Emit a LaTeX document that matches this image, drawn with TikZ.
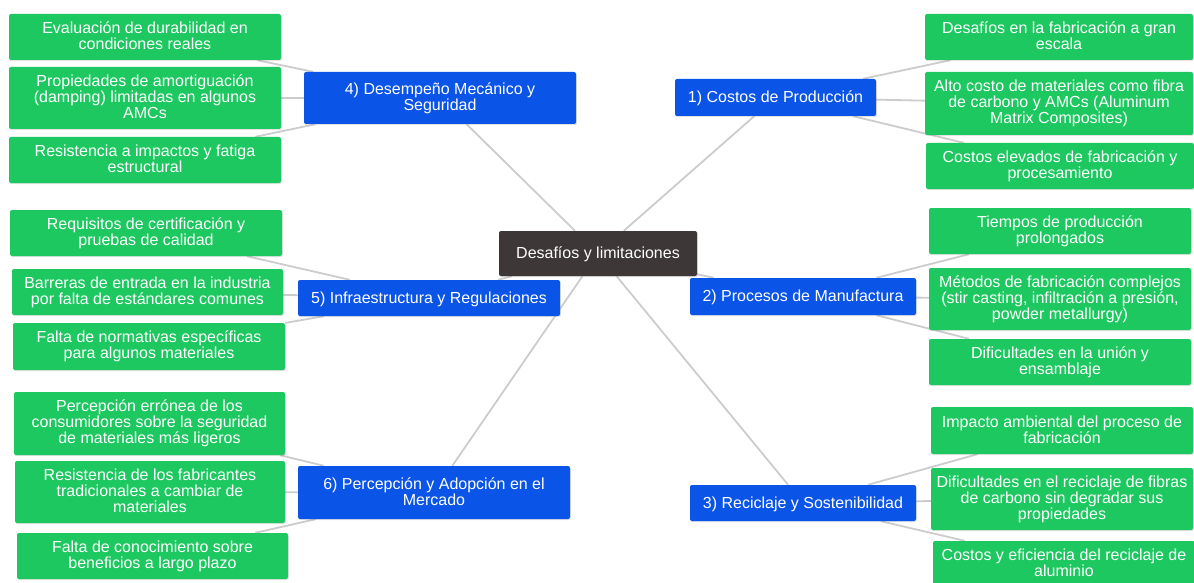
\documentclass[tikz,border=0pt]{standalone}
\usepackage{fontspec}
\setmainfont{Liberation Sans}
\usetikzlibrary{shadows,backgrounds}
\definecolor{leafgreen}{RGB}{29,200,96}
\definecolor{branchblue}{RGB}{10,84,232}
\definecolor{rootdark}{RGB}{61,56,55}
\definecolor{linkgray}{RGB}{204,204,204}
% fixed line box so that every line sits the same way in its box
\newcommand\lnstrut{\vrule height 13.5pt depth 2.5pt width 0pt\relax}
\begin{document}
\begin{tikzpicture}[x=1pt,y=-1pt,
  box/.style={rectangle, rounded corners=2pt, inner sep=0pt, text=white,
    align=center, font=\fontsize{16}{16}\selectfont,
    execute at begin node=\lnstrut, execute at end node=\lnstrut,
    drop shadow={opacity=0.22, shadow xshift=0.8pt, shadow yshift=-1.2pt}},
  leaf/.style={box, fill=leafgreen},
  branch/.style={box, fill=branchblue},
  root/.style={box, fill=rootdark},
  sz/.style 2 args={minimum width=#1, minimum height=#2},
  link/.style={draw=linkgray, line width=1.8pt}]
\useasboundingbox (0,0) rectangle (1194,583);
\clip (0,0) rectangle (1194,583);

% central topic
\node[root, sz={198pt}{45pt}] (c) at (598,253.5) {Desafíos y limitaciones};

% branches
\node[branch, sz={201pt}{37pt}] (b1) at (775.5,97.5) {1) Costos de Producción};
\node[branch, sz={226pt}{37pt}] (b2) at (803,296.5) {2) Procesos de Manufactura};
\node[branch, sz={226pt}{36pt}] (b3) at (803,503) {3) Reciclaje y Sostenibilidad};
\node[branch, sz={272pt}{52pt}] (b4) at (440,98) {4) Desempeño Mecánico y\\Seguridad};
\node[branch, sz={262pt}{36pt}] (b5) at (429,298) {5) Infraestructura y Regulaciones};
\node[branch, sz={272pt}{53pt}] (b6) at (434,492.5) {6) Percepción y Adopción en el\\Mercado};

% leaves of branch 1
\node[leaf, sz={268pt}{46pt}] (r11) at (1059,37) {Desafíos en la fabricación a gran\\escala};
\node[leaf, sz={268pt}{63pt}] (r12) at (1059,103.5) {Alto costo de materiales como fibra\\de carbono y AMCs (Aluminum\\Matrix Composites)};
\node[leaf, sz={268pt}{46pt}] (r13) at (1060,166) {Costos elevados de fabricación y\\procesamiento};

% leaves of branch 2
\node[leaf, sz={262pt}{46pt}] (r21) at (1060,231) {Tiempos de producción\\prolongados};
\node[leaf, sz={262pt}{62pt}] (r22) at (1060,299) {Métodos de fabricación complejos\\(stir casting, infiltración a presión,\\powder metallurgy)};
\node[leaf, sz={262pt}{46pt}] (r23) at (1060,362) {Dificultades en la unión y\\ensamblaje};

% leaves of branch 3
\node[leaf, sz={262pt}{47pt}] (r31) at (1062,430.5) {Impacto ambiental del proceso de\\fabricación};
\node[leaf, sz={262pt}{62pt}] (r32) at (1062,499) {Dificultades en el reciclaje de fibras\\de carbono sin degradar sus\\propiedades};
\node[leaf, sz={262pt}{46pt}] (r33) at (1064,564) {Costos y eficiencia del reciclaje de\\aluminio};

% leaves of branch 4
\node[leaf, sz={272pt}{46pt}] (l41) at (145,37) {Evaluación de durabilidad en\\condiciones reales};
\node[leaf, sz={272pt}{62pt}] (l42) at (145,98) {Propiedades de amortiguación\\(damping) limitadas en algunos\\AMCs};
\node[leaf, sz={272pt}{46pt}] (l43) at (145,160) {Resistencia a impactos y fatiga\\estructural};

% leaves of branch 5
\node[leaf, sz={272pt}{46pt}] (l51) at (146,233) {Requisitos de certificación y\\pruebas de calidad};
\node[leaf, sz={271pt}{46pt}] (l52) at (147.5,292) {Barreras de entrada en la industria\\por falta de estándares comunes};
\node[leaf, sz={272pt}{47pt}] (l53) at (149,346.5) {Falta de normativas específicas\\para algunos materiales};

% leaves of branch 6
\node[leaf, sz={271pt}{63pt}] (l61) at (149.5,423.5) {Percepción errónea de los\\consumidores sobre la seguridad\\de materiales más ligeros};
\node[leaf, sz={270pt}{62pt}] (l62) at (150,492) {Resistencia de los fabricantes\\tradicionales a cambiar de\\materiales};
\node[leaf, sz={271pt}{46pt}] (l63) at (152.5,556) {Falta de conocimiento sobre\\beneficios a largo plazo};

% connectors
\begin{scope}[on background layer]
  \foreach \b in {b1,b2,b3,b4,b5,b6} \draw[link] (c) -- (\b);
  \foreach \l in {r11,r12,r13} \draw[link] (b1) -- (\l);
  \foreach \l in {r21,r22,r23} \draw[link] (b2) -- (\l);
  \foreach \l in {r31,r32,r33} \draw[link] (b3) -- (\l);
  \foreach \l in {l41,l42,l43} \draw[link] (b4) -- (\l);
  \foreach \l in {l51,l52,l53} \draw[link] (b5) -- (\l);
  \foreach \l in {l61,l62,l63} \draw[link] (b6) -- (\l);
\end{scope}
\end{tikzpicture}
\end{document}
